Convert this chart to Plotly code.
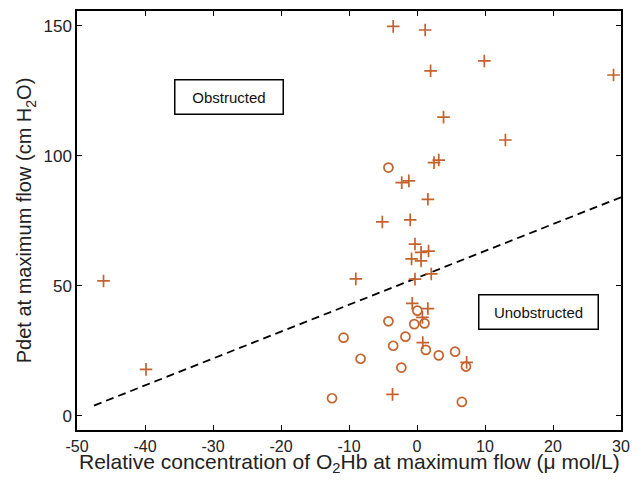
import plotly.graph_objects as go

# Obstructed-type (plus) markers
plus_x = [-3.5, 1.2, 2.0, 9.9, 28.9, 3.9, 13.0, 2.5, 3.2, -2.25, -1.2, 1.6, -5.1, -1.0,
          -0.3, 0.6, 1.7, -0.8, 0.6, -0.3, 2.1, -9.0, -46.1, -39.85, -0.7, 1.6, 0.8, 0.85,
          7.3, -3.6]
plus_y = [149.7, 148.3, 132.6, 136.4, 131.0, 114.8, 106.0, 97.3, 98.3, 89.6, 90.3, 83.2,
          74.5, 75.3, 66.0, 62.8, 63.3, 60.3, 59.5, 52.5, 54.5, 52.6, 51.8, 17.8, 43.2,
          41.2, 37.8, 28.1, 20.5, 8.2]

# Circle markers
circ_x = [-4.2, 0.05, -4.2, -0.4, 1.1, -10.8, -1.7, -3.5, 1.3, 3.2, 5.6, -8.3, -2.3, 7.2,
          -12.5, 6.6]
circ_y = [95.4, 40.4, 36.3, 35.2, 35.5, 30.0, 30.4, 26.9, 25.3, 23.2, 24.6, 21.9, 18.5,
          18.9, 6.7, 5.3]

# Dividing line
line_x = [-47.5, 30.0]
line_y = [3.9, 84.0]

labels = ["Obstructed", "Unobstructed"]
label_x = [-27.6, 17.8]
label_y = [122.6, 39.9]

x_ticks = [-50, -40, -30, -20, -10, 0, 10, 20, 30]
y_ticks = [0, 50, 100, 150]

x_title = "Relative concentration of O<sub>2</sub>Hb at maximum flow (μ mol/L)"
y_title = "Pdet at maximum flow (cm H<sub>2</sub>O)"

color = "#c4622d"
font = "Arial, Liberation Sans, sans-serif"

fig = go.Figure()
fig.add_trace(go.Scatter(x=line_x, y=line_y, mode="lines",
                         line=dict(color="black", width=1.8, dash="8px,5px"),
                         showlegend=False, hoverinfo="skip"))
fig.add_trace(go.Scatter(x=plus_x, y=plus_y, mode="markers",
                         marker=dict(symbol="cross-thin", size=9,
                                     line=dict(color=color, width=1.7)),
                         showlegend=False))
fig.add_trace(go.Scatter(x=circ_x, y=circ_y, mode="markers",
                         marker=dict(symbol="circle-open", size=9, color=color,
                                     line=dict(color=color, width=1.7)),
                         showlegend=False))

for t, x, y, w in zip(labels, label_x, label_y, [105, 116]):
    fig.add_annotation(x=x, y=y, text=t, showarrow=False, xref="x", yref="y",
                       font=dict(family=font, size=15, color="#111"),
                       bordercolor="black", borderwidth=1.5, bgcolor="white",
                       width=w, height=31)

# x-axis title placed as a paper annotation for precise vertical position
fig.add_annotation(x=0.5, y=-0.079, xref="paper", yref="paper", text=x_title,
                   showarrow=False, xanchor="center", yanchor="middle",
                   font=dict(family=font, size=21, color="#222"))

axis_common = dict(showline=True, linecolor="black", linewidth=1.5, mirror="ticks",
                   ticks="inside", ticklen=5, tickwidth=1.2, tickcolor="black",
                   showgrid=False, zeroline=False, automargin=False)

fig.update_xaxes(range=[-50, 30], tickvals=x_ticks, ticktext=[str(v) for v in x_ticks],
                 ticklabelstandoff=1,
                 tickfont=dict(family=font, size=16, color="#222"),
                 **axis_common)
fig.update_yaxes(range=[-5.5, 155.6], tickvals=y_ticks, ticktext=[str(v) for v in y_ticks],
                 tickfont=dict(family=font, size=17, color="#222"),
                 title=dict(text=y_title,
                            font=dict(family=font, size=20, color="#222"), standoff=6),
                 **axis_common)

# page body has an 8px margin; sizes compensate so the plot area sits at 77..621 x 11..430
fig.update_layout(width=625, height=467, plot_bgcolor="white", paper_bgcolor="white",
                  margin=dict(l=69, r=12, t=3, b=45), showlegend=False)

fig.write_html("out.html")
